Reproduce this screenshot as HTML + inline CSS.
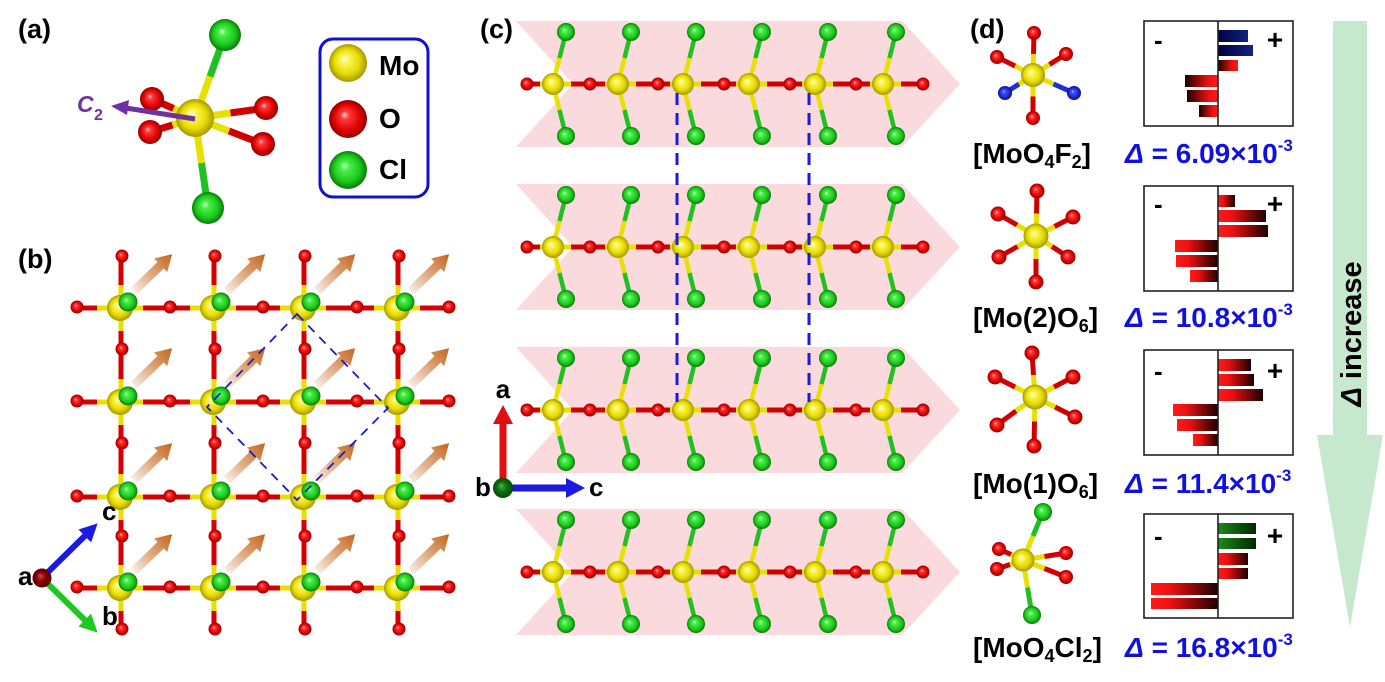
<!DOCTYPE html>
<html><head><meta charset="utf-8"><style>
html,body{margin:0;padding:0;background:#fff;}
svg{display:block;}
text{font-family:"Liberation Sans",Arial,sans-serif;font-weight:bold;}
</style></head><body>
<svg width="1385" height="682" viewBox="0 0 1385 682" xmlns="http://www.w3.org/2000/svg">
<defs>
 <radialGradient id="gY" cx="0.5" cy="0.5" r="0.5" fx="0.4" fy="0.38">
  <stop offset="0" stop-color="#ffffe0"/><stop offset="0.22" stop-color="#fbf55a"/><stop offset="0.65" stop-color="#e8dc00"/><stop offset="1" stop-color="#a59800"/>
 </radialGradient>
 <radialGradient id="gR" cx="0.5" cy="0.5" r="0.5" fx="0.4" fy="0.38">
  <stop offset="0" stop-color="#ffd0d0"/><stop offset="0.22" stop-color="#ff3a3a"/><stop offset="0.7" stop-color="#e00000"/><stop offset="1" stop-color="#900000"/>
 </radialGradient>
 <radialGradient id="gG" cx="0.5" cy="0.5" r="0.5" fx="0.4" fy="0.38">
  <stop offset="0" stop-color="#d8ffd8"/><stop offset="0.22" stop-color="#4cf04c"/><stop offset="0.7" stop-color="#1cc81c"/><stop offset="1" stop-color="#0a7a0a"/>
 </radialGradient>
 <radialGradient id="gBl" cx="0.5" cy="0.5" r="0.5" fx="0.4" fy="0.38">
  <stop offset="0" stop-color="#c0c0ff"/><stop offset="0.22" stop-color="#4050ff"/><stop offset="0.7" stop-color="#1a2ad0"/><stop offset="1" stop-color="#0a1080"/>
 </radialGradient>
 <radialGradient id="gDR" cx="0.5" cy="0.5" r="0.5" fx="0.4" fy="0.38">
  <stop offset="0" stop-color="#c05050"/><stop offset="0.5" stop-color="#8a0000"/><stop offset="1" stop-color="#5a0000"/>
 </radialGradient>
 <radialGradient id="gDG" cx="0.5" cy="0.5" r="0.5" fx="0.4" fy="0.38">
  <stop offset="0" stop-color="#50b050"/><stop offset="0.5" stop-color="#0a700a"/><stop offset="1" stop-color="#044a04"/>
 </radialGradient>
 <linearGradient id="gA" x1="0" y1="0" x2="1" y2="0">
  <stop offset="0" stop-color="#f6ece4"/><stop offset="0.45" stop-color="#e0aa80"/><stop offset="1" stop-color="#c4641c"/>
 </linearGradient>
 <linearGradient id="barR" x1="0" y1="0" x2="1" y2="0">
  <stop offset="0" stop-color="#ff1a1a"/><stop offset="0.3" stop-color="#ee1010"/><stop offset="1" stop-color="#1a0000"/>
 </linearGradient>
 <linearGradient id="barRr" x1="0" y1="0" x2="1" y2="0">
  <stop offset="0" stop-color="#1a0000"/><stop offset="0.7" stop-color="#ee1010"/><stop offset="1" stop-color="#ff1a1a"/>
 </linearGradient>
 <linearGradient id="barB" x1="0" y1="0" x2="1" y2="0">
  <stop offset="0" stop-color="#000040"/><stop offset="1" stop-color="#12247e"/>
 </linearGradient>
 <linearGradient id="barG" x1="0" y1="0" x2="1" y2="0">
  <stop offset="0" stop-color="#1a8a1a"/><stop offset="1" stop-color="#002800"/>
 </linearGradient>

 <circle id="bO" r="6.5" fill="url(#gR)"/>
 <path id="oa" d="M0,-4.5 L37,-4.5 L37,-9.5 L53,0 L37,9.5 L37,4.5 L0,4.5Z" fill="url(#gA)"/>
 <g id="bu">
  <line x1="-23" y1="0" x2="23" y2="0" stroke="#e8e000" stroke-width="5"/>
  <line x1="1" y1="-23" x2="1" y2="23" stroke="#e8e000" stroke-width="5"/>
  <circle r="13" fill="url(#gY)"/>
  <circle cx="8" cy="-6" r="9.5" fill="url(#gG)"/>
  <use href="#oa" transform="translate(14,-17) rotate(-44)"/>
 </g>

 <g id="cu">
  <line x1="-13" y1="0" x2="18" y2="0" stroke="#e8e000" stroke-width="5"/>
  <line x1="0" y1="0" x2="6.5" y2="-26" stroke="#e8e000" stroke-width="4.5"/>
  <line x1="6.5" y1="-26" x2="13" y2="-52" stroke="#20c020" stroke-width="4.5"/>
  <line x1="0" y1="0" x2="6.5" y2="26" stroke="#e8e000" stroke-width="4.5"/>
  <line x1="6.5" y1="26" x2="13" y2="52" stroke="#20c020" stroke-width="4.5"/>
  <circle r="11" fill="url(#gY)"/>
  <circle cx="13" cy="-52" r="9" fill="url(#gG)"/>
  <circle cx="13" cy="52" r="9" fill="url(#gG)"/>
 </g>
 <g id="crow">
  <polygon points="516,-63 902,-63 960,0 902,63 516,63 573,0" fill="#fadadd"/>
  <line x1="527" y1="0" x2="923" y2="0" stroke="#d00000" stroke-width="5"/>
  <circle cx="527" r="6.5" fill="url(#gR)"/>
  <circle cx="590" r="6.5" fill="url(#gR)"/>
  <circle cx="658" r="6.5" fill="url(#gR)"/>
  <circle cx="724" r="6.5" fill="url(#gR)"/>
  <circle cx="790" r="6.5" fill="url(#gR)"/>
  <circle cx="856" r="6.5" fill="url(#gR)"/>
  <circle cx="923" r="6.5" fill="url(#gR)"/>
  <use href="#cu" x="553"/>
  <use href="#cu" x="618"/>
  <use href="#cu" x="683"/>
  <use href="#cu" x="749"/>
  <use href="#cu" x="815"/>
  <use href="#cu" x="883"/>
 </g>
</defs>

<rect width="1385" height="682" fill="#fff"/>

<!-- Panel labels -->
<text x="18" y="38" font-size="27">(a)</text>
<text x="18" y="268" font-size="27">(b)</text>
<text x="480" y="38" font-size="27">(c)</text>
<text x="970" y="38" font-size="27">(d)</text>

<!-- Panel (a) -->
<g stroke-width="7" stroke-linecap="butt">
 <line x1="195" y1="118" x2="210" y2="76.5" stroke="#e8e000"/><line x1="210" y1="76.5" x2="225" y2="35" stroke="#20c020"/>
 <line x1="195" y1="118" x2="201.5" y2="163" stroke="#e8e000"/><line x1="201.5" y1="163" x2="208" y2="208" stroke="#20c020"/>
 <line x1="195" y1="118" x2="173.5" y2="108.5" stroke="#e8e000"/><line x1="173.5" y1="108.5" x2="152" y2="99" stroke="#d00000"/>
 <line x1="195" y1="118" x2="172.5" y2="125" stroke="#e8e000"/><line x1="172.5" y1="125" x2="150" y2="132" stroke="#d00000"/>
 <line x1="195" y1="118" x2="230.5" y2="113" stroke="#e8e000"/><line x1="230.5" y1="113" x2="266" y2="108" stroke="#d00000"/>
 <line x1="195" y1="118" x2="229" y2="131" stroke="#e8e000"/><line x1="229" y1="131" x2="263" y2="144" stroke="#d00000"/>
</g>
<circle cx="152" cy="99" r="12" fill="url(#gR)"/>
<circle cx="150" cy="132" r="12" fill="url(#gR)"/>
<circle cx="266" cy="108" r="12" fill="url(#gR)"/>
<circle cx="263" cy="144" r="12" fill="url(#gR)"/>
<circle cx="225" cy="35" r="16" fill="url(#gG)"/>
<circle cx="208" cy="208" r="16" fill="url(#gG)"/>
<circle cx="195" cy="118" r="19" fill="url(#gY)"/>
<line x1="195" y1="119" x2="126" y2="108" stroke="#7030a0" stroke-width="5"/>
<polygon points="111,106 129,100 127,115" fill="#7030a0"/>
<text x="77" y="112" font-size="23" font-style="italic" fill="#7030a0">C</text>
<text x="94" y="120" font-size="16" fill="#7030a0">2</text>

<!-- Legend -->
<rect x="320" y="39" width="108" height="158" rx="13" ry="13" fill="#fff" stroke="#1010d0" stroke-width="3"/>
<circle cx="348" cy="63" r="19" fill="url(#gY)"/>
<circle cx="348" cy="119" r="19" fill="url(#gR)"/>
<circle cx="348" cy="170" r="19" fill="url(#gG)"/>
<text x="379" y="75" font-size="28">Mo</text>
<text x="379" y="128" font-size="28">O</text>
<text x="379" y="179" font-size="28">Cl</text>

<!-- Panel (b) -->
<g stroke="#d40000" stroke-width="5">
 <line x1="77" y1="308" x2="449" y2="308"/>
 <line x1="77" y1="402" x2="449" y2="402"/>
 <line x1="77" y1="497" x2="449" y2="497"/>
 <line x1="77" y1="588" x2="449" y2="588"/>
 <line x1="121" y1="256" x2="121" y2="629"/>
 <line x1="214" y1="256" x2="214" y2="629"/>
 <line x1="304" y1="256" x2="304" y2="629"/>
 <line x1="398" y1="256" x2="398" y2="629"/>
</g>
<g>
 <use href="#bO" x="77" y="307"/><use href="#bO" x="170" y="307"/><use href="#bO" x="263" y="307"/><use href="#bO" x="357" y="307"/><use href="#bO" x="449" y="307"/>
 <use href="#bO" x="77" y="401"/><use href="#bO" x="170" y="401"/><use href="#bO" x="263" y="401"/><use href="#bO" x="357" y="401"/><use href="#bO" x="449" y="401"/>
 <use href="#bO" x="77" y="496"/><use href="#bO" x="170" y="496"/><use href="#bO" x="263" y="496"/><use href="#bO" x="357" y="496"/><use href="#bO" x="449" y="496"/>
 <use href="#bO" x="77" y="587"/><use href="#bO" x="170" y="587"/><use href="#bO" x="263" y="587"/><use href="#bO" x="357" y="587"/><use href="#bO" x="449" y="587"/>
 <use href="#bO" x="122" y="256"/><use href="#bO" x="122" y="349"/><use href="#bO" x="122" y="443"/><use href="#bO" x="122" y="536"/><use href="#bO" x="122" y="629"/>
 <use href="#bO" x="215" y="256"/><use href="#bO" x="215" y="349"/><use href="#bO" x="215" y="443"/><use href="#bO" x="215" y="536"/><use href="#bO" x="215" y="629"/>
 <use href="#bO" x="305" y="256"/><use href="#bO" x="305" y="349"/><use href="#bO" x="305" y="443"/><use href="#bO" x="305" y="536"/><use href="#bO" x="305" y="629"/>
 <use href="#bO" x="399" y="256"/><use href="#bO" x="399" y="349"/><use href="#bO" x="399" y="443"/><use href="#bO" x="399" y="536"/><use href="#bO" x="399" y="629"/>
</g>
<g>
 <use href="#bu" x="120" y="308"/><use href="#bu" x="213" y="308"/><use href="#bu" x="303" y="308"/><use href="#bu" x="397" y="308"/>
 <use href="#bu" x="120" y="402"/><use href="#bu" x="213" y="402"/><use href="#bu" x="303" y="402"/><use href="#bu" x="397" y="402"/>
 <use href="#bu" x="120" y="497"/><use href="#bu" x="213" y="497"/><use href="#bu" x="303" y="497"/><use href="#bu" x="397" y="497"/>
 <use href="#bu" x="120" y="588"/><use href="#bu" x="213" y="588"/><use href="#bu" x="303" y="588"/><use href="#bu" x="397" y="588"/>
</g>
<polygon points="297,314 388,408 297,500 207,407" fill="none" stroke="#1c1cc8" stroke-width="1.8" stroke-dasharray="9 7"/>
<!-- (b) axes -->
<path d="M0,-3 L60,-3 L60,-9 L78,0 L60,9 L60,3 L0,3Z" fill="#1a1ae0" transform="translate(42,578) rotate(-44.5)"/>
<path d="M0,-3 L60,-3 L60,-9 L78,0 L60,9 L60,3 L0,3Z" fill="#1ec81e" transform="translate(42,578) rotate(44.5)"/>
<circle cx="42" cy="578" r="9.5" fill="url(#gDR)"/>
<text x="18" y="585" font-size="26">a</text>
<text x="102" y="520" font-size="26">c</text>
<text x="102" y="625" font-size="26">b</text>

<!-- Panel (c) -->
<use href="#crow" y="84"/>
<use href="#crow" y="247"/>
<use href="#crow" y="410"/>
<use href="#crow" y="572"/>
<line x1="677" y1="93" x2="677" y2="402" stroke="#1a1ae6" stroke-width="3" stroke-dasharray="12 8"/>
<line x1="809" y1="93" x2="809" y2="402" stroke="#1a1ae6" stroke-width="3" stroke-dasharray="12 8"/>
<!-- (c) axes -->
<path d="M0,-3.5 L64,-3.5 L64,-10 L83,0 L64,10 L64,3.5 L0,3.5Z" fill="#e01010" transform="translate(503,488) rotate(-90)"/>
<path d="M0,-3.5 L63,-3.5 L63,-10 L82,0 L63,10 L63,3.5 L0,3.5Z" fill="#1a1ae0" transform="translate(503,488)"/>
<circle cx="503" cy="488" r="10" fill="url(#gDG)"/>
<text x="503" y="398" font-size="26" text-anchor="middle">a</text>
<text x="475" y="496" font-size="26">b</text>
<text x="589" y="496" font-size="26">c</text>

<!-- Panel (d) molecules -->
<g stroke-width="5">
 <!-- m1 -->
 <line x1="1033" y1="75" x2="1033.5" y2="54" stroke="#e8e000"/><line x1="1033.5" y1="54" x2="1034" y2="33" stroke="#d00000"/>
 <line x1="1033" y1="75" x2="1033" y2="96.5" stroke="#e8e000"/><line x1="1033" y1="96.5" x2="1033" y2="118" stroke="#d00000"/>
 <line x1="1033" y1="75" x2="1015" y2="66" stroke="#e8e000"/><line x1="1015" y1="66" x2="997" y2="57" stroke="#d00000"/>
 <line x1="1033" y1="75" x2="1049.5" y2="64.5" stroke="#e8e000"/><line x1="1049.5" y1="64.5" x2="1066" y2="54" stroke="#d00000"/>
 <line x1="1033" y1="75" x2="1019" y2="84" stroke="#e8e000"/><line x1="1019" y1="84" x2="1005" y2="93" stroke="#2030d0"/>
 <line x1="1033" y1="75" x2="1053.5" y2="84" stroke="#e8e000"/><line x1="1053.5" y1="84" x2="1074" y2="93" stroke="#2030d0"/>
 <!-- m2 -->
 <line x1="1036" y1="236" x2="1036.5" y2="213.5" stroke="#e8e000"/><line x1="1036.5" y1="213.5" x2="1037" y2="191" stroke="#d00000"/>
 <line x1="1036" y1="236" x2="1036" y2="259" stroke="#e8e000"/><line x1="1036" y1="259" x2="1036" y2="282" stroke="#d00000"/>
 <line x1="1036" y1="236" x2="1017" y2="225" stroke="#e8e000"/><line x1="1017" y1="225" x2="998" y2="214" stroke="#d00000"/>
 <line x1="1036" y1="236" x2="1054.5" y2="226.5" stroke="#e8e000"/><line x1="1054.5" y1="226.5" x2="1073" y2="217" stroke="#d00000"/>
 <line x1="1036" y1="236" x2="1017.5" y2="246.5" stroke="#e8e000"/><line x1="1017.5" y1="246.5" x2="999" y2="257" stroke="#d00000"/>
 <line x1="1036" y1="236" x2="1052" y2="246.5" stroke="#e8e000"/><line x1="1052" y1="246.5" x2="1068" y2="257" stroke="#d00000"/>
 <!-- m3 -->
 <line x1="1035" y1="397" x2="1033.5" y2="375" stroke="#e8e000"/><line x1="1033.5" y1="375" x2="1032" y2="353" stroke="#d00000"/>
 <line x1="1035" y1="397" x2="1034.5" y2="421.5" stroke="#e8e000"/><line x1="1034.5" y1="421.5" x2="1034" y2="446" stroke="#d00000"/>
 <line x1="1035" y1="397" x2="1015" y2="387" stroke="#e8e000"/><line x1="1015" y1="387" x2="995" y2="377" stroke="#d00000"/>
 <line x1="1035" y1="397" x2="1054" y2="387" stroke="#e8e000"/><line x1="1054" y1="387" x2="1073" y2="377" stroke="#d00000"/>
 <line x1="1035" y1="397" x2="1016" y2="411" stroke="#e8e000"/><line x1="1016" y1="411" x2="997" y2="425" stroke="#d00000"/>
 <line x1="1035" y1="397" x2="1055" y2="407" stroke="#e8e000"/><line x1="1055" y1="407" x2="1075" y2="417" stroke="#d00000"/>
 <!-- m4 -->
 <line x1="1023" y1="560" x2="1033" y2="536" stroke="#e8e000"/><line x1="1033" y1="536" x2="1043" y2="512" stroke="#20c020"/>
 <line x1="1023" y1="560" x2="1027.5" y2="587.5" stroke="#e8e000"/><line x1="1027.5" y1="587.5" x2="1032" y2="615" stroke="#20c020"/>
 <line x1="1023" y1="560" x2="1011" y2="554.5" stroke="#e8e000"/><line x1="1011" y1="554.5" x2="999" y2="549" stroke="#d00000"/>
 <line x1="1023" y1="560" x2="1010" y2="564.5" stroke="#e8e000"/><line x1="1010" y1="564.5" x2="997" y2="569" stroke="#d00000"/>
 <line x1="1023" y1="560" x2="1044.5" y2="556.5" stroke="#e8e000"/><line x1="1044.5" y1="556.5" x2="1066" y2="553" stroke="#d00000"/>
 <line x1="1023" y1="560" x2="1044.5" y2="568.5" stroke="#e8e000"/><line x1="1044.5" y1="568.5" x2="1066" y2="577" stroke="#d00000"/>
</g>
<!-- m1 atoms -->
<circle cx="1034" cy="33" r="7" fill="url(#gR)"/><circle cx="1033" cy="118" r="7" fill="url(#gR)"/>
<circle cx="997" cy="57" r="7" fill="url(#gR)"/><circle cx="1066" cy="54" r="7" fill="url(#gR)"/>
<circle cx="1005" cy="93" r="7" fill="url(#gBl)"/><circle cx="1074" cy="93" r="7" fill="url(#gBl)"/>
<circle cx="1033" cy="75" r="12" fill="url(#gY)"/>
<!-- m2 atoms -->
<circle cx="1037" cy="191" r="7.5" fill="url(#gR)"/><circle cx="1036" cy="282" r="7.5" fill="url(#gR)"/>
<circle cx="998" cy="214" r="7.5" fill="url(#gR)"/><circle cx="1073" cy="217" r="7.5" fill="url(#gR)"/>
<circle cx="999" cy="257" r="7.5" fill="url(#gR)"/><circle cx="1068" cy="257" r="7.5" fill="url(#gR)"/>
<circle cx="1036" cy="236" r="12.5" fill="url(#gY)"/>
<!-- m3 atoms -->
<circle cx="1032" cy="353" r="7.5" fill="url(#gR)"/><circle cx="1034" cy="446" r="7.5" fill="url(#gR)"/>
<circle cx="995" cy="377" r="7.5" fill="url(#gR)"/><circle cx="1073" cy="377" r="7.5" fill="url(#gR)"/>
<circle cx="997" cy="425" r="7.5" fill="url(#gR)"/><circle cx="1075" cy="417" r="7.5" fill="url(#gR)"/>
<circle cx="1035" cy="397" r="12.5" fill="url(#gY)"/>
<!-- m4 atoms -->
<circle cx="999" cy="549" r="7" fill="url(#gR)"/><circle cx="997" cy="569" r="7" fill="url(#gR)"/>
<circle cx="1066" cy="553" r="7" fill="url(#gR)"/><circle cx="1066" cy="577" r="7" fill="url(#gR)"/>
<circle cx="1023" cy="560" r="11.5" fill="url(#gY)"/>
<circle cx="1043" cy="512" r="9" fill="url(#gG)"/><circle cx="1032" cy="615" r="9" fill="url(#gG)"/>

<!-- Charts -->
<g>
 <!-- chart 1 -->
 <rect x="1218" y="30" width="30" height="12" fill="url(#barB)"/>
 <rect x="1218" y="45" width="35" height="11" fill="url(#barB)"/>
 <rect x="1218" y="60" width="20" height="11" fill="url(#barRr)"/>
 <rect x="1185" y="75" width="33" height="12" fill="url(#barRr)"/>
 <rect x="1187" y="90" width="31" height="12" fill="url(#barRr)"/>
 <rect x="1199" y="105" width="19" height="12" fill="url(#barRr)"/>
 <rect x="1144" y="21" width="149" height="105" fill="none" stroke="#222" stroke-width="1.6"/>
 <line x1="1218" y1="21" x2="1218" y2="126" stroke="#222" stroke-width="1.6"/>
 <text x="1154" y="49" font-size="26">-</text><text x="1275" y="49" font-size="28" text-anchor="middle">+</text>
 <!-- chart 2 -->
 <rect x="1218" y="195" width="17" height="12" fill="url(#barR)"/>
 <rect x="1218" y="210" width="48" height="12" fill="url(#barR)"/>
 <rect x="1218" y="225" width="50" height="12" fill="url(#barR)"/>
 <rect x="1175" y="240" width="43" height="12" fill="url(#barR)"/>
 <rect x="1176" y="255" width="42" height="12" fill="url(#barR)"/>
 <rect x="1190" y="270" width="28" height="12" fill="url(#barR)"/>
 <rect x="1144" y="186" width="149" height="105" fill="none" stroke="#222" stroke-width="1.6"/>
 <line x1="1218" y1="186" x2="1218" y2="291" stroke="#222" stroke-width="1.6"/>
 <text x="1154" y="213" font-size="26">-</text><text x="1275" y="213" font-size="28" text-anchor="middle">+</text>
 <!-- chart 3 -->
 <rect x="1218" y="359" width="33" height="12" fill="url(#barR)"/>
 <rect x="1218" y="374" width="36" height="12" fill="url(#barR)"/>
 <rect x="1218" y="389" width="45" height="12" fill="url(#barR)"/>
 <rect x="1173" y="404" width="45" height="12" fill="url(#barR)"/>
 <rect x="1177" y="419" width="41" height="12" fill="url(#barR)"/>
 <rect x="1193" y="434" width="25" height="12" fill="url(#barR)"/>
 <rect x="1144" y="350" width="149" height="105" fill="none" stroke="#222" stroke-width="1.6"/>
 <line x1="1218" y1="350" x2="1218" y2="455" stroke="#222" stroke-width="1.6"/>
 <text x="1154" y="380" font-size="26">-</text><text x="1275" y="380" font-size="28" text-anchor="middle">+</text>
 <!-- chart 4 -->
 <rect x="1218" y="523" width="38" height="11" fill="url(#barG)"/>
 <rect x="1218" y="538" width="38" height="11" fill="url(#barG)"/>
 <rect x="1218" y="553" width="30" height="12" fill="url(#barR)"/>
 <rect x="1218" y="568" width="30" height="11" fill="url(#barR)"/>
 <rect x="1151" y="583" width="67" height="12" fill="url(#barR)"/>
 <rect x="1151" y="598" width="67" height="11" fill="url(#barR)"/>
 <rect x="1144" y="514" width="149" height="104" fill="none" stroke="#222" stroke-width="1.6"/>
 <line x1="1218" y1="514" x2="1218" y2="618" stroke="#222" stroke-width="1.6"/>
 <text x="1154" y="545" font-size="26">-</text><text x="1275" y="545" font-size="28" text-anchor="middle">+</text>
</g>

<!-- Formula labels -->
<text x="973" y="163" font-size="28">[MoO<tspan font-size="18" dy="5">4</tspan><tspan dy="-5">F</tspan><tspan font-size="18" dy="5">2</tspan><tspan dy="-5">]</tspan></text>
<text x="973" y="327" font-size="28">[Mo(2)O<tspan font-size="18" dy="5">6</tspan><tspan dy="-5">]</tspan></text>
<text x="973" y="493" font-size="28">[Mo(1)O<tspan font-size="18" dy="5">6</tspan><tspan dy="-5">]</tspan></text>
<text x="973" y="657" font-size="28">[MoO<tspan font-size="18" dy="5">4</tspan><tspan dy="-5">Cl</tspan><tspan font-size="18" dy="5">2</tspan><tspan dy="-5">]</tspan></text>

<g fill="#1010e0" font-size="28">
 <text x="1125" y="163"><tspan font-style="italic">Δ</tspan> = 6.09×10<tspan font-size="17" dy="-12">-3</tspan></text>
 <text x="1125" y="327"><tspan font-style="italic">Δ</tspan> = 10.8×10<tspan font-size="17" dy="-12">-3</tspan></text>
 <text x="1125" y="493"><tspan font-style="italic">Δ</tspan> = 11.4×10<tspan font-size="17" dy="-12">-3</tspan></text>
 <text x="1125" y="657"><tspan font-style="italic">Δ</tspan> = 16.8×10<tspan font-size="17" dy="-12">-3</tspan></text>
</g>

<!-- Big green arrow -->
<polygon points="1333,21 1367,21 1367,435 1383,435 1350,627 1317,435 1333,435" fill="#c6e9cd"/>
<text transform="translate(1361,334) rotate(-90)" text-anchor="middle" font-size="29"><tspan font-style="italic">Δ</tspan> increase</text>
</svg>
</body></html>
